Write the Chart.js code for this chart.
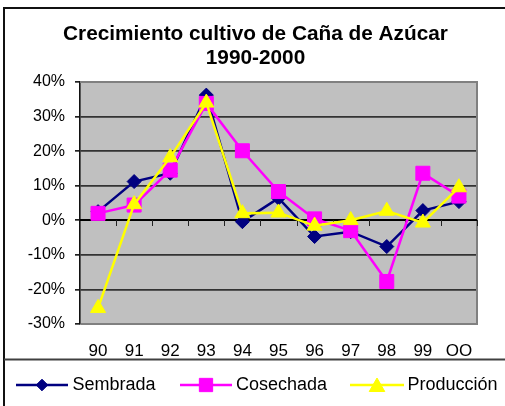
<!DOCTYPE html>
<html>
<head>
<meta charset="utf-8">
<script src="https://cdn.jsdelivr.net/npm/chart.js@4/dist/chart.umd.min.js"></script>
<style>
html,body{margin:0;padding:0;background:#fff;}
canvas{display:block;}
</style>
</head>
<body>
<canvas id="c" width="505" height="406"></canvas>
<script>
const categories = ['90','91','92','93','94','95','96','97','98','99','OO'];
const sembrada   = [2.5, 11.2, 13.6, 36.2, -0.4, 6.4, -4.7, -3.3, -7.6, 2.8, 5.4];
const cosechada  = [2.0, 4.4, 14.5, 33.8, 20.1, 8.3, 0.4, -3.0, -17.7, 13.6, 7.0];
const produccion = [-25.4, 4.6, 18.2, 34.0, 2.0, 2.2, -1.6, 0.0, 2.7, -0.7, 9.5];
const seriesNames = ['Sembrada', 'Cosechada', 'Producción'];
const titleLines = ['Crecimiento cultivo de Caña de Azúcar', '1990-2000'];
const yMin = -30, yMax = 40, yStep = 10;

const FONT = "'Liberation Sans', Arial, sans-serif";

const plotPlugin = {
  id: 'plotDecor',
  beforeDraw(chart) {
    const {ctx, chartArea: a} = chart;
    ctx.save();
    ctx.fillStyle = '#fff';
    ctx.fillRect(0, 0, chart.width, chart.height);
    ctx.fillStyle = '#C0C0C0';
    ctx.fillRect(a.left, a.top, a.right - a.left, a.bottom - a.top);
    ctx.restore();
  },
  beforeDatasetsDraw(chart) {
    const {ctx, chartArea: a, scales} = chart;
    const xs = scales.x, ys = scales.y;
    ctx.save();
    // plot border (top, right, bottom)
    ctx.strokeStyle = '#808080';
    ctx.lineWidth = 2;
    ctx.beginPath();
    ctx.moveTo(a.left, a.top);
    ctx.lineTo(a.right, a.top);
    ctx.lineTo(a.right, a.bottom);
    ctx.lineTo(a.left + 1, a.bottom);
    ctx.stroke();
    // zero axis line with tick marks
    const y0 = Math.round(ys.getPixelForValue(0));
    ctx.strokeStyle = '#000';
    ctx.lineWidth = 2;
    ctx.beginPath();
    ctx.moveTo(a.left, y0);
    ctx.lineTo(a.right, y0);
    ctx.stroke();
    ctx.strokeStyle = '#222';
    ctx.lineWidth = 1;
    ctx.beginPath();
    for (let i = 1; i <= categories.length; i++) {
      const px = Math.round(xs.getPixelForValue(i - 0.5)) + 0.5;
      ctx.moveTo(px, y0);
      ctx.lineTo(px, y0 + 6);
    }
    ctx.stroke();
    ctx.restore();
  },
  afterDraw(chart) {
    const {ctx} = chart;
    ctx.save();
    // outer chart border
    ctx.strokeStyle = '#111';
    ctx.lineWidth = 2;
    ctx.strokeRect(4, 8, 520, 420);
    // legend box top
    ctx.strokeStyle = '#404040';
    ctx.lineWidth = 2;
    ctx.beginPath();
    ctx.moveTo(4, 359.5);
    ctx.lineTo(505, 359.5);
    ctx.stroke();
    // legend entries
    const ly = 385;
    const items = [
      {x1: 16, x2: 68, mx: 42, tx: 72.5, r: 5.8},
      {x1: 180, x2: 232, mx: 206, tx: 236, r: 9.4},
      {x1: 350, x2: 404, mx: 377, tx: 407.5, r: 9}
    ];
    chart.data.datasets.forEach((ds, i) => {
      const it = items[i];
      ctx.strokeStyle = ds.borderColor;
      ctx.lineWidth = 2.5;
      ctx.beginPath();
      ctx.moveTo(it.x1, ly);
      ctx.lineTo(it.x2, ly);
      ctx.stroke();
      ctx.fillStyle = ds.backgroundColor;
      ctx.strokeStyle = ds.borderColor;
      ctx.lineWidth = 1;
      Chart.helpers.drawPoint(ctx, {pointStyle: ds.pointStyle, radius: it.r, borderWidth: 1, rotation: 0}, it.mx, ly + (ds.pointStyle === 'triangle' ? 2 : 0));
      ctx.fillStyle = '#000';
      ctx.font = '18px ' + FONT;
      ctx.textBaseline = 'middle';
      ctx.textAlign = 'left';
      ctx.fillText(ds.label, it.tx, ly);
    });
    ctx.restore();
  }
};

new Chart(document.getElementById('c'), {
  type: 'line',
  data: {
    labels: categories,
    datasets: [
      {label: seriesNames[0], data: sembrada, borderColor: '#000080', backgroundColor: '#000080',
       pointStyle: 'rectRot', pointRadius: 7, borderWidth: 2.5, pointBorderWidth: 1, order: 3},
      {label: seriesNames[1], data: cosechada, borderColor: '#FF00FF', backgroundColor: '#FF00FF',
       pointStyle: 'rect', pointRadius: 9.9, borderWidth: 2.5, pointBorderWidth: 1, order: 2},
      {label: seriesNames[2], data: produccion, borderColor: '#FFFF00', backgroundColor: '#FFFF00',
       pointStyle: 'triangle', pointRadius: 8.7, borderWidth: 2.5, pointBorderWidth: 1, order: 1}
    ]
  },
  options: {
    responsive: false,
    animation: false,
    devicePixelRatio: 1,
    layout: {padding: {left: 6, right: 0, top: 0, bottom: 42}},
    plugins: {
      legend: {display: false},
      tooltip: {enabled: false},
      title: {
        display: true,
        text: titleLines,
        color: '#000',
        font: {family: FONT, size: 20.8, weight: 'bold', lineHeight: 1.17},
        padding: {top: 22, bottom: 11.3}
      }
    },
    elements: {line: {tension: 0}},
    scales: {
      x: {
        type: 'category',
        offset: true,
        grid: {display: false, drawTicks: false},
        border: {display: false},
        ticks: {color: '#000', font: {family: FONT, size: 17}, padding: 17, maxRotation: 0, autoSkip: false},
        afterFit(s) { s.height = 40; }
      },
      y: {
        min: yMin, max: yMax,
        grid: {
          color: (c) => c.tick && (c.tick.value === yMax || c.tick.value === yMin) ? 'rgba(0,0,0,0)' : '#333',
          tickColor: '#222',
          tickLength: 5,
          drawTicks: true,
          lineWidth: 1.7
        },
        border: {display: true, color: '#111', width: 1.6},
        ticks: {
          stepSize: yStep,
          color: '#000',
          font: {family: FONT, size: 16},
          padding: 10,
          callback: (v) => v + '%'
        },
        afterFit(s) { s.width = 74; }
      },
      yRight: {
        type: 'linear',
        position: 'right',
        display: true,
        grid: {display: false, drawTicks: false},
        border: {display: false},
        ticks: {display: false},
        afterFit(s) { s.width = 28; }
      }
    }
  },
  plugins: [plotPlugin]
});
</script>
</body>
</html>
